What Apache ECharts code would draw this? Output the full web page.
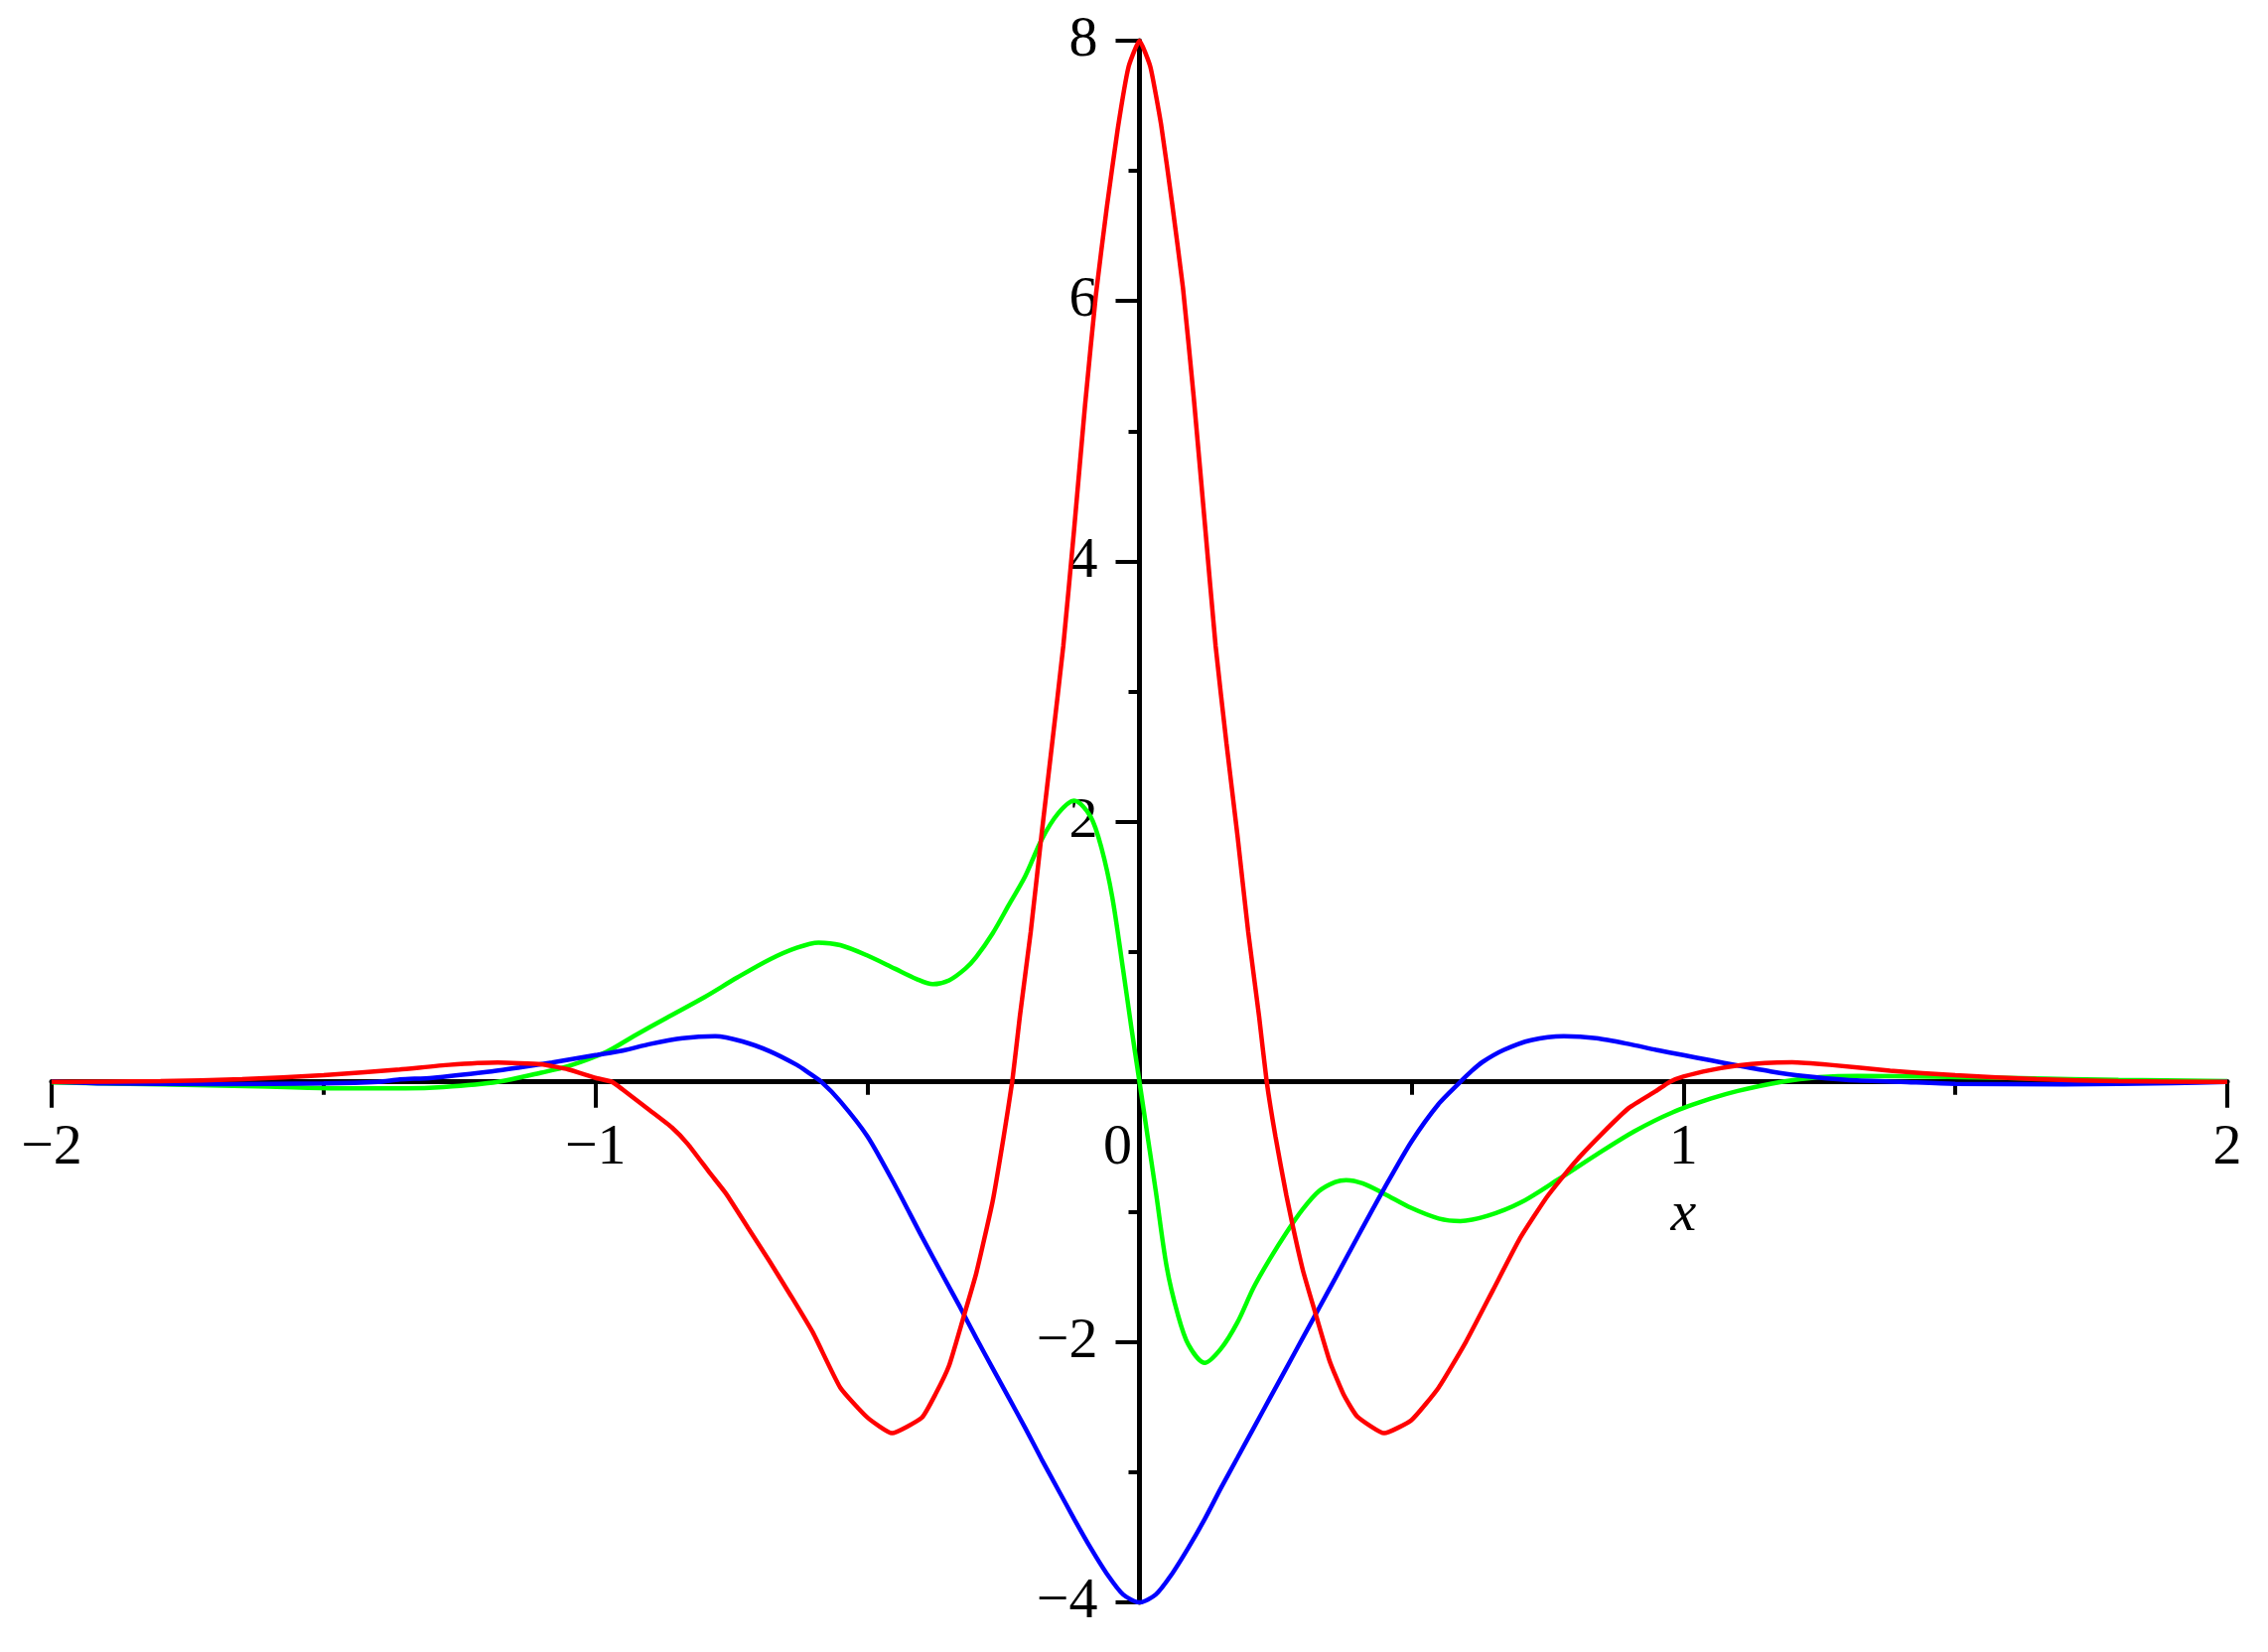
<!DOCTYPE html>
<html><head><meta charset="utf-8">
<script src="https://cdn.jsdelivr.net/npm/echarts/dist/echarts.min.js"></script>
<style>html,body{margin:0;padding:0;background:#fff}#c{width:2284px;height:1664px}</style>
</head><body><div id="c"></div>
<script>
// ---- data ----
const redX = [-2.00,-1.80,-1.65,-1.50,-1.36,-1.27,-1.18,-1.10,-1.05,-1.00,-0.97,-0.95,-0.90,-0.86,-0.83,-0.79,-0.76,-0.72,-0.68,-0.64,-0.60,-0.55,-0.50,-0.455,-0.40,-0.375,-0.35,-0.325,-0.30,-0.27,-0.25,-0.234,-0.22,-0.20,-0.18,-0.16,-0.14,-0.12,-0.10,-0.08,-0.06,-0.04,-0.02,0,
  0.02,0.04,0.06,0.08,0.10,0.12,0.14,0.16,0.18,0.20,0.22,0.234,0.25,0.27,0.30,0.325,0.35,0.375,0.40,0.45,0.50,0.55,0.60,0.65,0.70,0.75,0.80,0.85,0.90,0.95,0.975,1.00,1.05,1.10,1.15,1.20,1.27,1.38,1.50,1.65,1.80,2.00];
const redY = [0.0,0.005,0.02,0.05,0.095,0.13,0.148,0.135,0.095,0.03,0.0,-0.06,-0.22,-0.35,-0.48,-0.70,-0.86,-1.12,-1.38,-1.65,-1.93,-2.35,-2.58,-2.70,-2.58,-2.40,-2.18,-1.83,-1.47,-0.92,-0.43,0.0,0.50,1.15,1.90,2.62,3.35,4.25,5.20,6.05,6.72,7.32,7.80,8.0,
  7.80,7.35,6.75,6.10,5.25,4.30,3.35,2.60,1.90,1.15,0.50,0.0,-0.42,-0.87,-1.44,-1.80,-2.15,-2.40,-2.57,-2.70,-2.60,-2.35,-2.00,-1.60,-1.20,-0.88,-0.62,-0.40,-0.20,-0.07,0.0,0.04,0.09,0.125,0.145,0.15,0.13,0.085,0.05,0.02,0.005,0.0];

const blueX = [-2.00,-1.90,-1.70,-1.50,-1.40,-1.36,-1.30,-1.20,-1.14,-1.08,-1.00,-0.95,-0.90,-0.84,-0.78,-0.73,-0.68,-0.63,-0.61,-0.585,-0.55,-0.50,-0.45,-0.40,-0.36,-0.33,-0.30,-0.27,-0.24,-0.21,-0.18,-0.15,-0.12,-0.09,-0.06,-0.03,0,
  0.03,0.06,0.09,0.12,0.15,0.18,0.21,0.24,0.27,0.30,0.33,0.36,0.40,0.45,0.50,0.55,0.59,0.61,0.63,0.67,0.72,0.78,0.84,0.90,0.95,1.00,1.05,1.10,1.16,1.22,1.30,1.40,1.50,1.70,1.90,2.00];
const blueY = [0.0,-0.012,-0.018,-0.012,0.0,0.018,0.03,0.075,0.11,0.148,0.205,0.24,0.29,0.335,0.35,0.31,0.235,0.13,0.075,0.0,-0.15,-0.42,-0.79,-1.19,-1.50,-1.73,-1.97,-2.20,-2.43,-2.66,-2.90,-3.13,-3.36,-3.58,-3.78,-3.94,-4.0,
  -3.94,-3.78,-3.58,-3.36,-3.12,-2.89,-2.66,-2.43,-2.20,-1.97,-1.74,-1.51,-1.20,-0.82,-0.46,-0.17,0.0,0.08,0.15,0.245,0.32,0.35,0.335,0.29,0.245,0.205,0.165,0.125,0.08,0.045,0.015,0.0,-0.015,-0.02,-0.01,0.0];

const greenX = [-2.00,-1.80,-1.62,-1.48,-1.35,-1.28,-1.18,-1.10,-1.05,-0.98,-0.93,-0.87,-0.80,-0.74,-0.68,-0.63,-0.59,-0.55,-0.50,-0.45,-0.41,-0.38,-0.35,-0.32,-0.30,-0.27,-0.24,-0.21,-0.18,-0.15,-0.12,-0.09,-0.07,-0.05,-0.03,-0.015,0,
  0.015,0.03,0.05,0.07,0.09,0.12,0.15,0.18,0.21,0.24,0.27,0.30,0.33,0.36,0.38,0.41,0.45,0.50,0.55,0.59,0.64,0.70,0.77,0.84,0.91,0.98,1.05,1.10,1.18,1.25,1.32,1.46,1.62,1.80,2.00];
const greenY = [-0.005,-0.02,-0.035,-0.05,-0.05,-0.04,0.0,0.07,0.12,0.23,0.35,0.49,0.65,0.80,0.94,1.03,1.07,1.05,0.97,0.87,0.79,0.75,0.78,0.87,0.96,1.14,1.36,1.58,1.86,2.06,2.16,2.04,1.80,1.42,0.86,0.42,0.0,
  -0.42,-0.84,-1.42,-1.78,-2.02,-2.16,-2.05,-1.85,-1.58,-1.36,-1.16,-0.98,-0.84,-0.77,-0.755,-0.78,-0.86,-0.97,-1.05,-1.07,-1.03,-0.93,-0.75,-0.56,-0.38,-0.235,-0.13,-0.07,0.0,0.035,0.046,0.04,0.028,0.015,0.005];

const xRange = [-2, 2];
const yRange = [-4, 8];
const axisName = 'x';
// ---------------------------------------

const FONT = '"Liberation Serif", "Times New Roman", serif';
const FS = 58;
function pairs(xs, ys) { return xs.map((x, i) => [x, ys[i]]); }
function fmt(v) { return v < 0 ? '\u2212' + Math.abs(v) : String(v); }

const chart = echarts.init(document.getElementById('c'), null, { renderer: 'canvas' });
const axisCommon = {
  type: 'value',
  axisLine: { onZero: false, lineStyle: { color: '#000', width: 5 } },
  splitLine: { show: false },
  minorSplitLine: { show: false },
};
chart.setOption({
  animation: false,
  backgroundColor: '#fff',
  grid: { left: 52, right: 41, top: 41, bottom: 50, containLabel: false, outerBoundsMode: 'none' },
  xAxis: Object.assign({}, axisCommon, {
    position: 'bottom',
    min: xRange[0], max: xRange[1], interval: 1,
    axisTick: { show: true, length: 26, lineStyle: { color: '#000', width: 4 } },
    minorTick: { show: true, splitNumber: 2, length: 13, lineStyle: { color: '#000', width: 4 } },
    axisLabel: {
      margin: 38, fontFamily: FONT, fontSize: FS, color: '#000',
      showMinLabel: true, showMaxLabel: true, hideOverlap: false,
      formatter: v => v === 0 ? '{z|0}' : fmt(v),
      rich: { z: { fontFamily: FONT, fontSize: FS, color: '#000', padding: [0, 44, 0, 0] } }
    }
  }),
  yAxis: Object.assign({}, axisCommon, {
    position: 'left',
    min: yRange[0], max: yRange[1], interval: 2,
    axisTick: { show: true, length: 24, lineStyle: { color: '#000', width: 4 } },
    minorTick: { show: true, splitNumber: 2, length: 11, lineStyle: { color: '#000', width: 4 } },
    axisLabel: {
      margin: 42, fontFamily: FONT, fontSize: FS, color: '#000',
      showMinLabel: true, showMaxLabel: true, hideOverlap: false,
      formatter: v => v === 0 ? '' : fmt(v)
    }
  }),
  series: [
    { name: 'green', type: 'line', data: pairs(greenX, greenY), showSymbol: false, smooth: 0.3,
      lineStyle: { color: '#00ff00', width: 4.5 }, z: 2 },
    { name: 'blue', type: 'line', data: pairs(blueX, blueY), showSymbol: false, smooth: 0.25,
      lineStyle: { color: '#0000ff', width: 4.5 }, z: 3 },
    { name: 'red', type: 'line', data: pairs(redX, redY), showSymbol: false, smooth: 0.15,
      lineStyle: { color: '#ff0000', width: 4.5 }, z: 4 }
  ]
});
// move both axes so that they cross at the origin
const p0 = chart.convertToPixel({ gridIndex: 0 }, [0, 0]);
const pMin = chart.convertToPixel({ gridIndex: 0 }, [xRange[0], yRange[0]]);
const p1 = chart.convertToPixel({ gridIndex: 0 }, [1, 0]);
chart.setOption({
  xAxis: { offset: -(pMin[1] - p0[1]) },
  yAxis: { offset: -(p0[0] - pMin[0]) },
  graphic: [{
    type: 'text', x: p1[0], y: p1[1] + 134, z: 10,
    style: { text: axisName, fontFamily: FONT, fontSize: FS, fontStyle: 'italic', fill: '#000',
      align: 'center', verticalAlign: 'middle' }
  }]
});
</script></body></html>
